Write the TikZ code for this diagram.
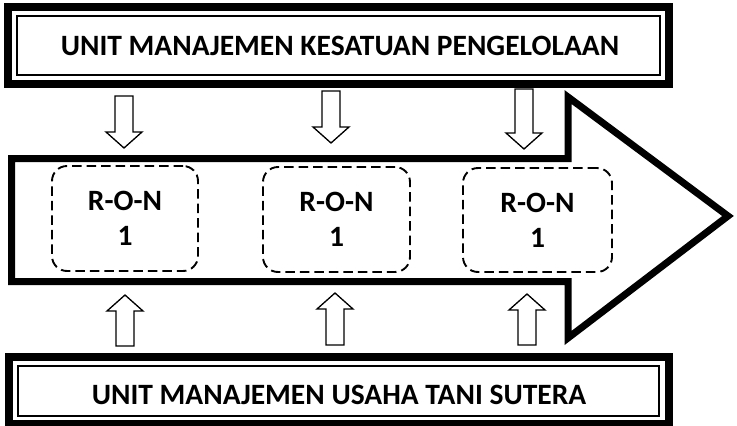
\documentclass[tikz,border=0pt]{standalone}
\usepackage{fontspec}
\setmainfont{Carlito}
\begin{document}
\begin{tikzpicture}[x=1pt,y=-1pt,
  heavyframe/.style={line width=8pt},
  thinframe/.style={draw, line width=2pt, inner sep=0pt},
  headtext/.style={font=\bfseries\fontsize{29.5}{35}\selectfont, inner sep=0pt},
  ronbox/.style={draw, dash pattern=on 9.5pt off 5pt, line width=1.9pt,
    rounded corners=15pt, align=center, inner sep=0pt,
    font=\bfseries\fontsize{29.5}{35}\selectfont},
  bigarrow/.style={line width=7pt, miter limit=10},
  hollowline/.style={line width=1.3pt, line join=miter},
  pics/hollow/.style={code={
    \draw[hollowline] (0,0) -- (18,-16) -- (9,-16) -- (9,-#1) -- (-9,-#1)
      -- (-9,-16) -- (-18,-16) -- cycle;}}
]
\useasboundingbox (0,0) rectangle (737,426);

% main process arrow
\draw[bigarrow] (11.5,158.5) -- (568,158.5) -- (568,97) -- (728,216)
  -- (568,338) -- (568,281.5) -- (11.5,281.5) -- cycle;

% upper management unit
\node[thinframe, minimum width=642.5pt, minimum height=59pt] (kphframe) at (338.25,45) {};
\draw[heavyframe] ([shift={(-8,-7.5)}]kphframe.north west) rectangle ([shift={(8.5,8)}]kphframe.south east);
\node[headtext] (kph) at (340,45.5) {UNIT MANAJEMEN KESATUAN PENGELOLAAN};

% lower management unit
\node[thinframe, minimum width=641pt, minimum height=50pt] (usahaframe) at (338.5,391) {};
\draw[heavyframe] ([shift={(-8,-8)}]usahaframe.north west) rectangle ([shift={(9,7)}]usahaframe.south east);
\node[headtext] (usaha) at (339,395) {UNIT MANAJEMEN USAHA TANI SUTERA};

% R-O-N units
\node[ronbox, minimum width=146pt, minimum height=105pt] (ron1) at (125,218.5) {R-O-N\\1};
\node[ronbox, minimum width=147pt, minimum height=105pt] (ron2) at (336.5,219.5) {R-O-N\\1};
\node[ronbox, minimum width=149pt, minimum height=104pt] (ron3) at (537.5,220) {R-O-N\\1};

% downward hollow arrows (tip at origin)
\pic at (124,148) {hollow=52};
\pic at (331,143) {hollow=52};
\pic at (524,149) {hollow=60};

% upward hollow arrows
\pic[rotate=180] at (125,295) {hollow=51};
\pic[rotate=180] at (335,293) {hollow=52};
\pic[rotate=180] at (527,294) {hollow=51};
\end{tikzpicture}
\end{document}
